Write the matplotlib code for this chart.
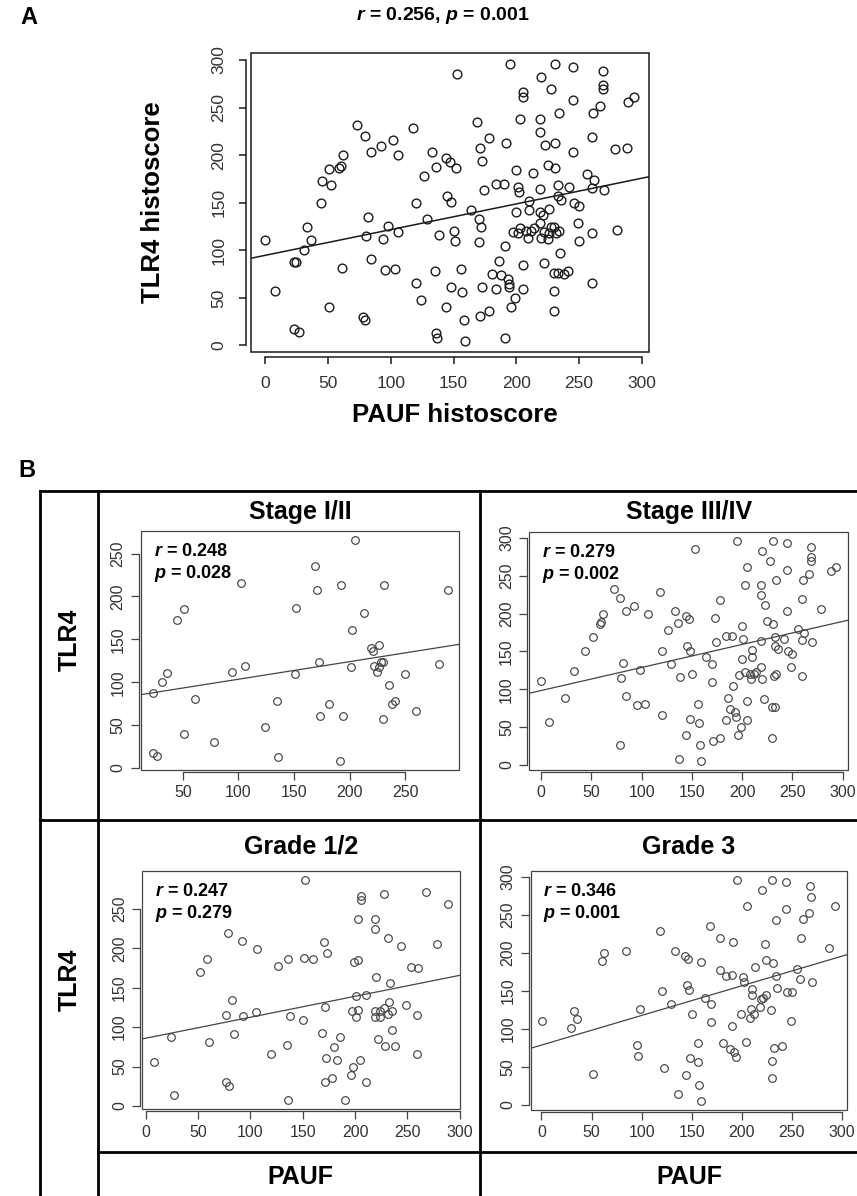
import matplotlib
matplotlib.use('Agg')
import matplotlib.pyplot as plt
import numpy as np
from matplotlib.lines import Line2D
from matplotlib.patches import Rectangle

plt.rcParams['font.family'] = ['Liberation Sans', 'DejaVu Sans']
plt.rcParams['mathtext.fontset'] = 'custom'
plt.rcParams['mathtext.it'] = 'Liberation Sans:italic:bold'
plt.rcParams['mathtext.rm'] = 'Liberation Sans:bold'

# (PAUF, TLR4) histoscores
stage12 = [(23, 88), (23, 17), (27, 14), (31, 100), (36, 111), (45, 173), (51, 185), (51, 40),
           (61, 81), (78, 30), (94, 112), (102, 216), (106, 119), (124, 48), (135, 78), (136, 13),
           (151, 110), (152, 186), (169, 235), (171, 207), (172, 124), (173, 61), (181, 75), (191, 8),
           (192, 213), (194, 61), (201, 118), (202, 161), (205, 266), (213, 181), (219, 140), (221, 137),
           (222, 119), (226, 143), (225, 112), (228, 124), (230, 124), (226, 118), (231, 213), (230, 57),
           (235, 97), (238, 75), (241, 78), (250, 110), (260, 66), (280, 121), (288, 207)]

stage34 = [(0, 111), (8, 57), (24, 88), (33, 124), (44, 150), (52, 169), (59, 186), (60, 189),
           (62, 200), (73, 232), (79, 220), (80, 115), (79, 27), (82, 135), (84, 203), (84, 91),
           (92, 210), (95, 79), (98, 126), (103, 80), (106, 200), (118, 229), (120, 150), (120, 66),
           (126, 178), (129, 133), (133, 203), (136, 188), (138, 116), (137, 8), (144, 40), (144, 197),
           (147, 193), (145, 157), (148, 151), (148, 61), (150, 120), (153, 285), (156, 80), (157, 56),
           (158, 27), (159, 5), (164, 142), (170, 133), (170, 109), (171, 31), (173, 194), (174, 163),
           (178, 218), (178, 36), (184, 59), (186, 89), (184, 170), (190, 170), (191, 104), (188, 74),
           (193, 70), (194, 64), (195, 296), (196, 40), (197, 119), (199, 50), (200, 184), (201, 167),
           (200, 140), (203, 123), (205, 261), (203, 238), (205, 84), (205, 59), (208, 120), (210, 152),
           (210, 142), (212, 120), (209, 113), (214, 123), (219, 238), (219, 224), (220, 282), (219, 164),
           (219, 129), (220, 113), (222, 87), (223, 211), (225, 190), (228, 269), (231, 296), (231, 186),
           (230, 76), (233, 76), (230, 36), (233, 169), (234, 244), (233, 157), (236, 153), (234, 120),
           (232, 118), (242, 167), (245, 293), (245, 258), (245, 203), (246, 150), (249, 129), (250, 147),
           (256, 180), (260, 118), (260, 165), (260, 219), (261, 244), (262, 174), (267, 252), (269, 288),
           (269, 274), (269, 270), (270, 163), (279, 206), (289, 256), (294, 261)]

grade12 = [(8, 56), (24, 87), (27, 14), (52, 170), (59, 186), (60, 81), (77, 115), (79, 219),
           (77, 30), (80, 26), (82, 134), (84, 91), (92, 209), (93, 114), (105, 119), (106, 199),
           (120, 66), (126, 178), (135, 77), (136, 187), (138, 114), (136, 7), (150, 109), (151, 188),
           (152, 287), (160, 186), (168, 92), (170, 208), (171, 125), (172, 61), (173, 194), (171, 31),
           (178, 35), (180, 75), (183, 58), (186, 88), (190, 7), (196, 39), (198, 50), (197, 120),
           (199, 183), (201, 140), (201, 113), (203, 185), (203, 122), (205, 58), (203, 237), (206, 266),
           (206, 262), (210, 141), (210, 30), (219, 237), (219, 224), (220, 164), (219, 120), (219, 113),
           (222, 85), (224, 120), (224, 113), (228, 269), (228, 124), (229, 76), (231, 213), (232, 132),
           (231, 117), (233, 156), (235, 120), (235, 97), (238, 76), (244, 203), (249, 128), (253, 176),
           (260, 175), (259, 116), (259, 66), (268, 272), (278, 206), (289, 256)]

grade3 = [(1, 111), (30, 101), (33, 124), (36, 113), (51, 41), (60, 189), (62, 200), (84, 203),
          (95, 79), (96, 65), (98, 126), (118, 229), (120, 150), (122, 48), (129, 133), (133, 202),
          (136, 14), (143, 196), (146, 192), (144, 40), (145, 158), (147, 151), (148, 62), (150, 120),
          (156, 81), (156, 56), (157, 26), (159, 5), (159, 188), (163, 141), (168, 235), (169, 133),
          (169, 109), (178, 219), (178, 178), (181, 82), (184, 170), (190, 171), (191, 214), (190, 104),
          (188, 74), (192, 69), (194, 63), (195, 296), (199, 119), (201, 168), (202, 162), (204, 83),
          (205, 261), (208, 114), (209, 126), (210, 152), (210, 144), (212, 119), (213, 182), (218, 129),
          (219, 139), (221, 141), (224, 145), (220, 282), (223, 211), (224, 190), (229, 125), (230, 296),
          (231, 187), (230, 58), (230, 36), (232, 75), (234, 169), (234, 243), (235, 154), (240, 77),
          (244, 293), (244, 258), (245, 149), (249, 110), (250, 148), (255, 179), (258, 165), (259, 219),
          (261, 244), (267, 252), (268, 288), (269, 274), (270, 162), (287, 207), (293, 261)]

all_cases = stage12 + stage34

# fitted lines (intercept, slope)
fit_all = (94.7, 0.270)
fit_s12 = (83.0, 0.205)
fit_s34 = (98.3, 0.304)
fit_g12 = (86.0, 0.266)
fit_g3 = (78.7, 0.390)

stats_all = ('0.256', '0.001')
stats_s12 = ('0.248', '0.028')
stats_s34 = ('0.279', '0.002')
stats_g12 = ('0.247', '0.279')
stats_g3 = ('0.346', '0.001')

ticks_full = [0, 50, 100, 150, 200, 250, 300]

W, H = 857, 1196
fig = plt.figure(figsize=(W / 100, H / 100), dpi=100)


def fx(px):
    return px / W


def fy(py):
    return 1 - py / H


def axes_px(l, t, r, b):
    return fig.add_axes([fx(l), fy(b), (r - l) / W, (b - t) / H])


def r_lim(v):
    lo, hi = min(v), max(v)
    d = (hi - lo) * 0.04
    return lo - d, hi + d


def draw(ax, pts, fit, xt, yt, ms, mew, col, lw, fs, off, tlen, pad):
    x, y = np.array(pts, dtype=float).T
    ax.plot(x, y, 'o', mfc='none', mec=col, ms=ms, mew=mew, zorder=3)
    ax.set_xlim(r_lim(x))
    ax.set_ylim(r_lim(y))
    ax.axline((0, fit[0]), slope=fit[1], color=col, lw=lw, zorder=2)
    ax.set_xticks(xt)
    ax.set_yticks(yt)
    for s in ['top', 'right']:
        ax.spines[s].set_visible(False)
    for s in ['left', 'bottom']:
        ax.spines[s].set_position(('outward', off))
        ax.spines[s].set_linewidth(lw)
        ax.spines[s].set_color(col)
    ax.spines['bottom'].set_bounds(xt[0], xt[-1])
    ax.spines['left'].set_bounds(yt[0], yt[-1])
    ax.add_patch(Rectangle((0, 0), 1, 1, transform=ax.transAxes, fill=False,
                           lw=lw, ec=col, clip_on=False, zorder=5))
    ax.tick_params(length=tlen, width=lw, pad=pad, labelsize=fs, color=col, labelcolor='#333333')
    plt.setp(ax.get_yticklabels(), rotation=90, va='center')


# ---- panel A ----
axA = axes_px(250.7, 52.7, 649, 351.7)
draw(axA, all_cases, fit_all, ticks_full, ticks_full, 6.3, 1.0, '#1a1a1a', 1.1, 12.5, 3.6, 5, 9)
fig.text(fx(20), fy(17), 'A', fontsize=17, fontweight='bold', va='center')
fig.text(fx(443), fy(16), '$r$ = %s, $p$ = %s' % stats_all, fontsize=14,
         fontweight='bold', ha='center', va='center')
fig.text(fx(455), fy(415), 'PAUF histoscore', fontsize=18.5, fontweight='bold',
         ha='center', va='center')
fig.text(fx(153), fy(202), 'TLR4 histoscore', fontsize=18.5, fontweight='bold',
         ha='center', va='center', rotation=90)

# ---- panel B ----
fig.text(fx(18), fy(470), 'B', fontsize=17, fontweight='bold', va='center')

panels = [
    ('Stage I/II', stage12, fit_s12, stats_s12, [50, 100, 150, 200, 250], [0, 50, 100, 150, 200, 250],
     (141, 531, 459.3, 770), 512),
    ('Stage III/IV', stage34, fit_s34, stats_s34, ticks_full, ticks_full,
     (529.3, 532, 848.3, 770), 512),
    ('Grade 1/2', grade12, fit_g12, stats_g12, ticks_full, [0, 50, 100, 150, 200, 250],
     (142.3, 871, 460, 1109.3), 847),
    ('Grade 3', grade3, fit_g3, stats_g3, ticks_full, ticks_full,
     (530.7, 871, 846.7, 1110), 847),
]

for title, pts, fit, st, xt, yt, box, ty in panels:
    ax = axes_px(*box)
    draw(ax, pts, fit, xt, yt, 5.5, 0.85, '#444444', 0.9, 11.5, 1.5, 5.5, 4)
    fig.text(fx((box[0] + box[2]) / 2), fy(ty), title, fontsize=18, fontweight='bold',
             ha='center', va='center')
    ax.text(0.04, 0.915, '$r$ = %s' % st[0], transform=ax.transAxes, fontsize=13,
            fontweight='bold', va='center', ha='left')
    ax.text(0.04, 0.822, '$p$ = %s' % st[1], transform=ax.transAxes, fontsize=13,
            fontweight='bold', va='center', ha='left')

for px in [(300, 1177), (689, 1177)]:
    fig.text(fx(px[0]), fy(px[1]), 'PAUF', fontsize=18, fontweight='bold', ha='center', va='center')
for py in [640, 980]:
    fig.text(fx(70), fy(py), 'TLR4', fontsize=18, fontweight='bold', ha='center', va='center',
             rotation=90)

# table grid
grid = [((40, 491), (857, 491)), ((40, 491), (40, 1196)), ((98, 491), (98, 1196)),
        ((480, 491), (480, 1196)), ((40, 820), (857, 820)), ((98, 1152), (857, 1152))]
for (x0, y0), (x1, y1) in grid:
    fig.add_artist(Line2D([fx(x0), fx(x1)], [fy(y0), fy(y1)], color='black', lw=2.0,
                          transform=fig.transFigure))

fig.savefig('out.png', dpi=100)
